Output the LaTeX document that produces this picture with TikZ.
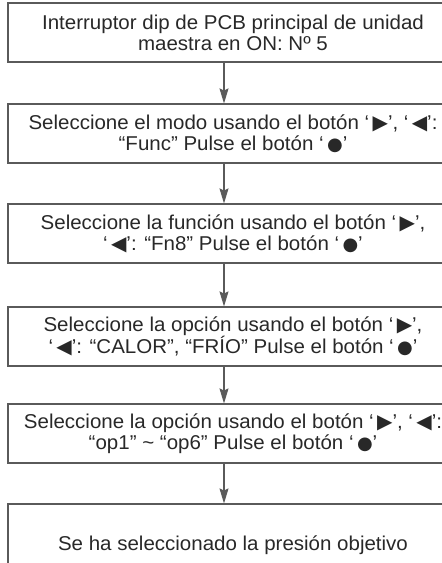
\documentclass[tikz,border=0pt]{standalone}
\usepackage{fontspec}
\setmainfont{Liberation Sans}[FakeStretch=1.025]
\newfontfamily\symfont{DejaVu Sans}
\usetikzlibrary{arrows.meta, positioning}
\definecolor{edge}{RGB}{90,90,90}
\definecolor{ink}{RGB}{40,40,40}
\newcommand{\bR}{\,{\symfont ▶}}
\newcommand{\bL}{\,{\symfont ◀}}
\newcommand{\bO}{\,{\symfont\scalebox{0.9}{●}}}

\begin{document}
\begin{tikzpicture}[x=1pt, y=-1pt,
  stepbox/.style={rectangle, draw=edge, line width=1.1pt, minimum width=450pt, minimum height=59pt,
    inner sep=0pt, align=center, text=ink, font=\fontsize{20}{21}\selectfont},
  flow/.style={draw=edge, line width=1.1pt, -{Stealth[length=15pt, width=9pt, inset=2pt]}}]
  \useasboundingbox (0,0) rectangle (442,563);
  \clip (0,0) rectangle (442,563);
  \node[stepbox] (s1) at (233,32.5) {Interruptor dip de PCB principal de unidad\\maestra en ON: Nº 5};
  \node[stepbox] (s2) at (233,133.5) {Seleccione el modo usando el botón ‘\bR’, ‘\bL’:\\“Func” Pulse el botón ‘\bO’};
  \node[stepbox] (s3) at (233,233.5) {Seleccione la función usando el botón ‘\bR’,\\‘\bL’: “Fn8” Pulse el botón ‘\bO’};
  \node[stepbox] (s4) at (233,336.5) {Seleccione la opción usando el botón ‘\bR’,\\‘\bL’: “CALOR”, “FRÍO” Pulse el botón ‘\bO’};
  \node[stepbox] (s5) at (233,433.5) {Seleccione la opción usando el botón ‘\bR’, ‘\bL’:\\“op1” \textasciitilde{} “op6” Pulse el botón ‘\bO’};
  \node[stepbox, minimum height=82pt] (s6) at (233,545) {Se ha seleccionado la presión objetivo};
  % arrow column
  \coordinate (ax) at (224,0);
  \foreach \a/\b in {s1/s2, s2/s3, s3/s4, s4/s5, s5/s6}
    \draw[flow] (\a.south -| ax) -- (\b.north -| ax);
\end{tikzpicture}
\end{document}
